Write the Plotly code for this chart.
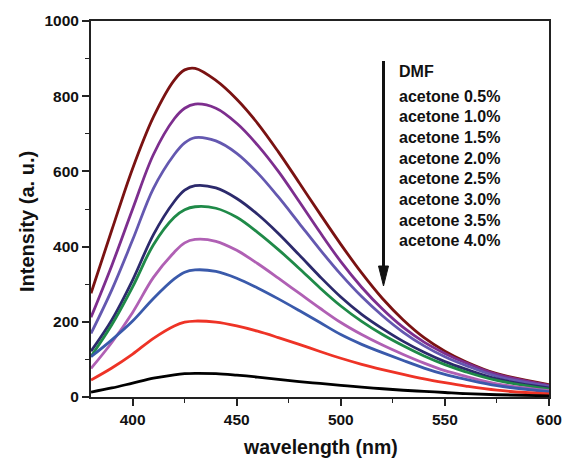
import plotly.graph_objects as go

wavelength = [380, 390, 400, 410, 420, 425, 430, 440, 450, 460, 470, 480, 490,
              500, 510, 520, 530, 540, 550, 560, 575, 600]

dmf        = [276, 444, 608, 745, 843, 870, 874, 842, 792, 728, 652, 570, 487,
              406, 330, 262, 205, 158, 122, 94, 62, 33]
acetone_05 = [212, 350, 500, 645, 740, 768, 779, 768, 728, 670, 600, 520, 438,
              360, 292, 234, 185, 146, 116, 91, 60, 31]
acetone_10 = [169, 285, 418, 555, 645, 676, 690, 681, 648, 596, 532, 462, 392,
              326, 267, 216, 172, 136, 107, 84, 55, 28]
acetone_15 = [122, 205, 311, 432, 520, 550, 562, 556, 528, 486, 435, 378, 320,
              266, 220, 182, 148, 119, 94, 74, 48, 24]
acetone_20 = [108, 192, 293, 405, 478, 498, 506, 502, 478, 438, 392, 342, 290,
              242, 201, 166, 136, 109, 86, 67, 44, 21]
acetone_25 = [76, 145, 225, 318, 385, 410, 419, 414, 390, 355, 316, 276, 236,
              198, 166, 138, 113, 90, 70, 55, 35, 17]
acetone_30 = [107, 152, 202, 262, 314, 332, 338, 334, 316, 290, 261, 230, 198,
              166, 140, 118, 97, 77, 60, 47, 30, 14]
acetone_35 = [45, 77, 114, 156, 189, 199, 202, 199, 189, 175, 158, 140, 121,
              103, 87, 73, 60, 48, 38, 29, 18, 8]
acetone_40 = [13, 24, 37, 50, 59, 62, 63, 62, 58, 53, 47, 41, 36,
              31, 26, 22, 18, 15, 12, 9, 6, 3]

series_names = ["DMF", "acetone 0.5%", "acetone 1.0%", "acetone 1.5%", "acetone 2.0%",
                "acetone 2.5%", "acetone 3.0%", "acetone 3.5%", "acetone 4.0%"]
series_values = [dmf, acetone_05, acetone_10, acetone_15, acetone_20,
                 acetone_25, acetone_30, acetone_35, acetone_40]
colors = ["#7a1212", "#7d2e8e", "#6458b0", "#2c2a6c", "#1f8a48",
          "#b060b4", "#3a5aab", "#ee3326", "#000000"]

x_ticks = [400, 450, 500, 550, 600]
y_ticks = [0, 200, 400, 600, 800, 1000]

fig = go.Figure()
for name, vals, col in zip(series_names, series_values, colors):
    fig.add_trace(go.Scatter(x=wavelength, y=vals, mode="lines", name=name,
                             line=dict(color=col, width=2.8, shape="spline", smoothing=1.0),
                             showlegend=False, hoverinfo="skip"))

FONT = "Liberation Sans, Arial, sans-serif"
W, H = 565, 461
L, R, T, B = 91, 549, 21, 397

def px_x(p):
    return (p - L) / (R - L)

def px_y(p):
    return (B - p) / (B - T)

annotations = []
label_px = [71.5] + [96 + 20.7 * i for i in range(len(series_names) - 1)]
for name, ypx in zip(series_names, label_px):
    annotations.append(dict(text=name, xref="paper", yref="paper", x=px_x(397), y=px_y(ypx),
                            xanchor="left", yanchor="middle", showarrow=False,
                            font=dict(family=FONT, size=16, color="#111111", weight="bold")))

annotations.append(dict(text="Intensity (a. u.)", xref="paper", yref="paper",
                        x=px_x(27), y=px_y(222), textangle=-90, showarrow=False,
                        xanchor="center", yanchor="middle",
                        font=dict(family=FONT, size=20, color="#111111", weight="bold")))
annotations.append(dict(text="wavelength (nm)", xref="paper", yref="paper",
                        x=0.5, y=px_y(447), showarrow=False,
                        xanchor="center", yanchor="middle",
                        font=dict(family=FONT, size=19.5, color="#111111", weight="bold")))

shapes = [
    dict(type="line", xref="paper", yref="paper", x0=px_x(383.5), x1=px_x(383.5),
         y0=px_y(61), y1=px_y(268), line=dict(color="#111111", width=3)),
    dict(type="path", xref="paper", yref="paper",
         path=f"M {px_x(378.5)},{px_y(266)} L {px_x(388.5)},{px_y(266)} L {px_x(383.5)},{px_y(286)} Z",
         fillcolor="#111111", line=dict(color="#111111", width=1)),
]

axis_common = dict(showline=True, linecolor="#222222", linewidth=2, mirror=True,
                   ticks="outside", ticklen=7, tickwidth=1.6, tickcolor="#222222",
                   showgrid=False, zeroline=False, automargin=False,
                   tickfont=dict(family=FONT, size=15.5, color="#111111", weight="bold"))

fig.update_layout(
    width=W, height=H, autosize=False,
    margin=dict(l=L, r=W - R, t=T, b=H - B, pad=0, autoexpand=False),
    paper_bgcolor="white", plot_bgcolor="white",
    xaxis=dict(range=[380, 600], tickvals=x_ticks,
               minor=dict(dtick=25, tick0=400, ticks="outside", ticklen=4, tickwidth=1.4,
                          tickcolor="#222222"),
               **axis_common),
    yaxis=dict(range=[0, 1000], tickvals=y_ticks,
               minor=dict(dtick=100, tick0=0, ticks="outside", ticklen=4, tickwidth=1.4,
                          tickcolor="#222222"),
               **axis_common),
    annotations=annotations,
    shapes=shapes,
)

fig.write_html("out.html",
               config={"displayModeBar": False, "responsive": False},
               post_script="document.body.style.margin='0px';"
                           "document.documentElement.style.overflow='hidden';")
